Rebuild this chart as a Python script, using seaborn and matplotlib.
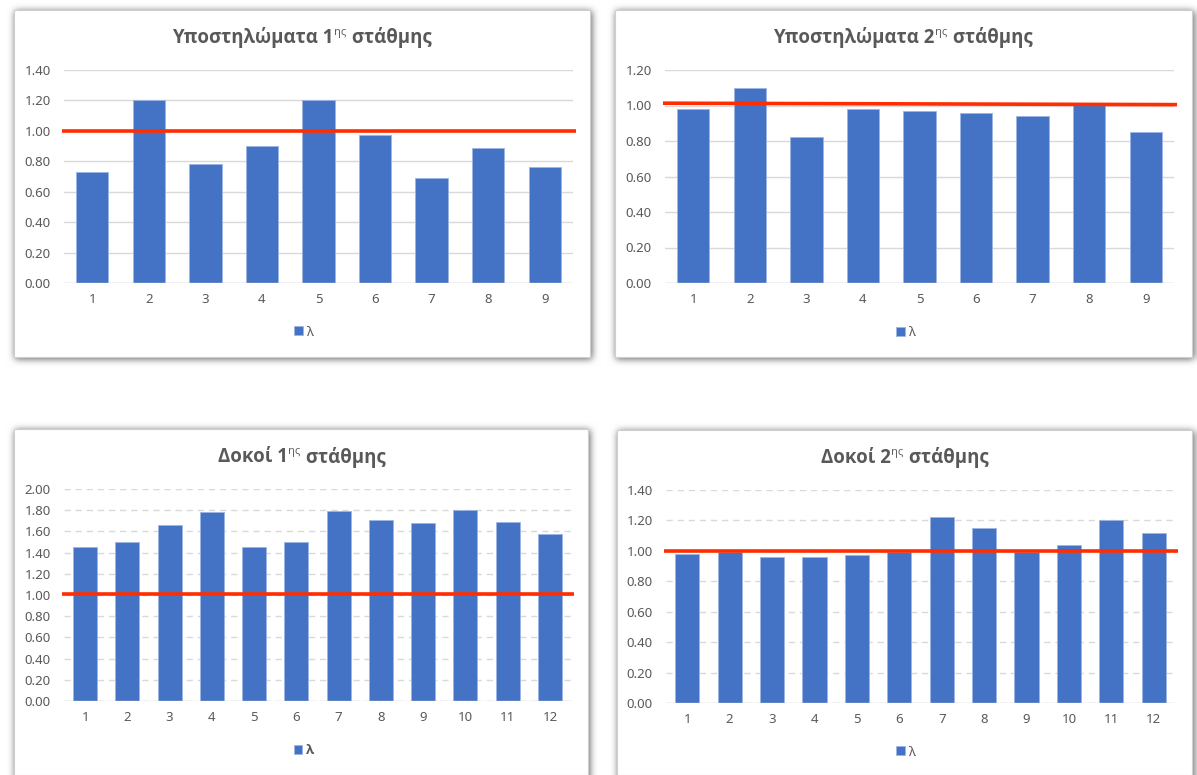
import numpy as np
import matplotlib
matplotlib.use("Agg")
import matplotlib.pyplot as plt
from matplotlib.patches import Rectangle
from matplotlib.ticker import FormatStrFormatter
import seaborn as sns

# ---- data ----
cols_sup1 = ["1", "2", "3", "4", "5", "6", "7", "8", "9"]
lam_sup1 = [0.73, 1.20, 0.78, 0.90, 1.20, 0.97, 0.69, 0.89, 0.76]

cols_sup2 = ["1", "2", "3", "4", "5", "6", "7", "8", "9"]
lam_sup2 = [0.98, 1.10, 0.82, 0.98, 0.97, 0.96, 0.94, 1.01, 0.85]

cols_beam1 = ["1", "2", "3", "4", "5", "6", "7", "8", "9", "10", "11", "12"]
lam_beam1 = [1.45, 1.50, 1.66, 1.78, 1.45, 1.50, 1.79, 1.71, 1.68, 1.80, 1.69, 1.58]

cols_beam2 = ["1", "2", "3", "4", "5", "6", "7", "8", "9", "10", "11", "12"]
lam_beam2 = [0.98, 0.99, 0.96, 0.96, 0.97, 0.99, 1.22, 1.15, 0.99, 1.04, 1.20, 1.12]

# reference level lines (start, end)
limit_sup1 = (1.00, 1.00)
limit_sup2 = (1.013, 1.005)
limit_beam1 = (1.01, 1.01)
limit_beam2 = (1.00, 1.00)

titles = [
    ("Υποστηλώματα 1", "ης", " στάθμης"),
    ("Υποστηλώματα 2", "ης", " στάθμης"),
    ("Δοκοί 1", "ης", " στάθμης"),
    ("Δοκοί 2", "ης", " στάθμης"),
]
legend_label = "λ"

# ---- style ----
sns.set_style("white")
plt.rcParams["font.family"] = ["Noto Sans", "DejaVu Sans"]
BOLD_FAMILY = ["Open Sans", "Liberation Sans", "DejaVu Sans"]

W, H = 1197, 775
fig = plt.figure(figsize=(W / 100, H / 100), dpi=100)

BAR = "#4472C4"
RED = "#FF2D00"
GREY_TXT = "#595959"
GRID = "#D9D9D9"

# panel frames in pixel coordinates (x0, y0, x1, y1), y from top
frames = [
    (14, 10, 590, 357),
    (615, 10, 1192, 357),
    (14, 429, 588, 775),
    (617, 430, 1192, 775),
]

# soft drop shadow behind the frames
mask = np.zeros((H, W))
for x0, y0, x1, y1 in frames:
    mask[y0 + 1:min(y1 + 2, H), x0 + 1:min(x1 + 2, W)] = 1.0


def box_blur(a, r):
    k = 2 * r + 1
    p = np.pad(a, ((r, r), (r, r)), mode="edge")
    c = np.cumsum(p, axis=0)
    c = np.vstack([np.zeros((1, c.shape[1])), c])
    a = (c[k:, :] - c[:-k, :]) / k
    c = np.cumsum(a, axis=1)
    c = np.hstack([np.zeros((c.shape[0], 1)), c])
    return (c[:, k:] - c[:, :-k]) / k


blur = mask
for _ in range(3):
    blur = box_blur(blur, 3)
shade = 1.0 - 0.62 * blur
img = np.dstack([shade, shade, shade]).clip(0, 1)
fig.figimage(img, xo=0, yo=0, origin="upper", zorder=-3)

for x0, y0, x1, y1 in frames:
    fig.add_artist(Rectangle((x0 / W, 1 - y1 / H), (x1 - x0) / W, (y1 - y0) / H,
                             transform=fig.transFigure, facecolor="white",
                             edgecolor="#CFCFCF", lw=0.8, zorder=-2))

# plot areas in pixels (left, right, y of zero, y of top)
areas = [
    (64, 573, 283, 70),
    (665, 1174, 283, 70),
    (64, 571, 701, 489),
    (666, 1175, 703, 490),
]
ymaxes = [1.4, 1.2, 2.0, 1.4]
dashed = [False, False, True, True]
title_pos = [(302, 38), (903, 38), (302, 457), (905, 458)]
legend_pos = [(304, 332), (906, 333), (304, 751), (906, 752)]
legend_bold = [False, False, True, False]
datasets = [
    (cols_sup1, lam_sup1, limit_sup1),
    (cols_sup2, lam_sup2, limit_sup2),
    (cols_beam1, lam_beam1, limit_beam1),
    (cols_beam2, lam_beam2, limit_beam2),
]

renderer = fig.canvas.get_renderer()


def rich_title(cx, cy, parts, size):
    base, sup, rest = parts
    kw = dict(fontsize=size, fontweight="bold", family=BOLD_FAMILY,
              color=GREY_TXT, va="center", ha="left")
    t1 = fig.text(0, 0, base, **kw)
    t2 = fig.text(0, 0, sup, **{**kw, "fontsize": size * 0.6, "fontweight": "normal"})
    t3 = fig.text(0, 0, rest, **kw)
    ws = [t.get_window_extent(renderer).width for t in (t1, t2, t3)]
    ws[1] += 1.0
    x = cx - sum(ws) / 2
    rises = [0, size * 1.389 * 0.28, 0]
    for t, w, dy in zip((t1, t2, t3), ws, rises):
        t.set_position((x / W, 1 - (cy - dy) / H))
        x += w


for i, ((cats, vals, lim), (l, r, yb, yt)) in enumerate(zip(datasets, areas)):
    ax = fig.add_axes([l / W, 1 - yb / H, (r - l) / W, (yb - yt) / H])
    ax.set_facecolor("none")
    sns.barplot(x=cats, y=vals, color=BAR, saturation=1, width=0.57,
                edgecolor="#9DB5E3", linewidth=0.6, label=legend_label, ax=ax)
    n = len(cats)
    ax.set_xlim(-0.5, n - 0.5)
    ax.set_ylim(0, ymaxes[i])
    ax.set_yticks(np.round(np.arange(0, ymaxes[i] + 1e-6, 0.2), 2))
    ax.yaxis.set_major_formatter(FormatStrFormatter("%.2f"))
    ax.yaxis.grid(True, color=GRID, lw=1.0,
                  ls=(0, (4.5, 3.5)) if dashed[i] else "-")
    ax.set_axisbelow(True)
    for s in ax.spines.values():
        s.set_visible(False)
    ax.tick_params(axis="both", length=0, labelsize=9.5, labelcolor=GREY_TXT)
    ax.tick_params(axis="y", pad=9.5)
    ax.tick_params(axis="x", pad=7)
    ax.set_xlabel("")
    ax.set_ylabel("")
    # baseline at zero
    ax.axhline(0, color=GRID, lw=1.0, zorder=1)
    # reference level
    ax.plot([-0.004, 1.006], list(lim), color=RED, lw=2.6,
            transform=ax.get_yaxis_transform(), clip_on=False, zorder=5,
            solid_capstyle="butt")

    handles, labels = ax.get_legend_handles_labels()
    lx, ly = legend_pos[i]
    leg = ax.legend(handles[:1], labels[:1], loc="center",
                    bbox_to_anchor=(lx / W, 1 - ly / H),
                    bbox_transform=fig.transFigure, frameon=False,
                    handlelength=0.62, handleheight=0.68, handletextpad=0.3,
                    fontsize=9.5, labelcolor=GREY_TXT)
    if legend_bold[i]:
        for t in leg.get_texts():
            t.set_fontweight("bold")
            t.set_family(BOLD_FAMILY)

    cx, cy = title_pos[i]
    rich_title(cx, cy, titles[i], 13.4)

fig.savefig("out.png", dpi=100)
